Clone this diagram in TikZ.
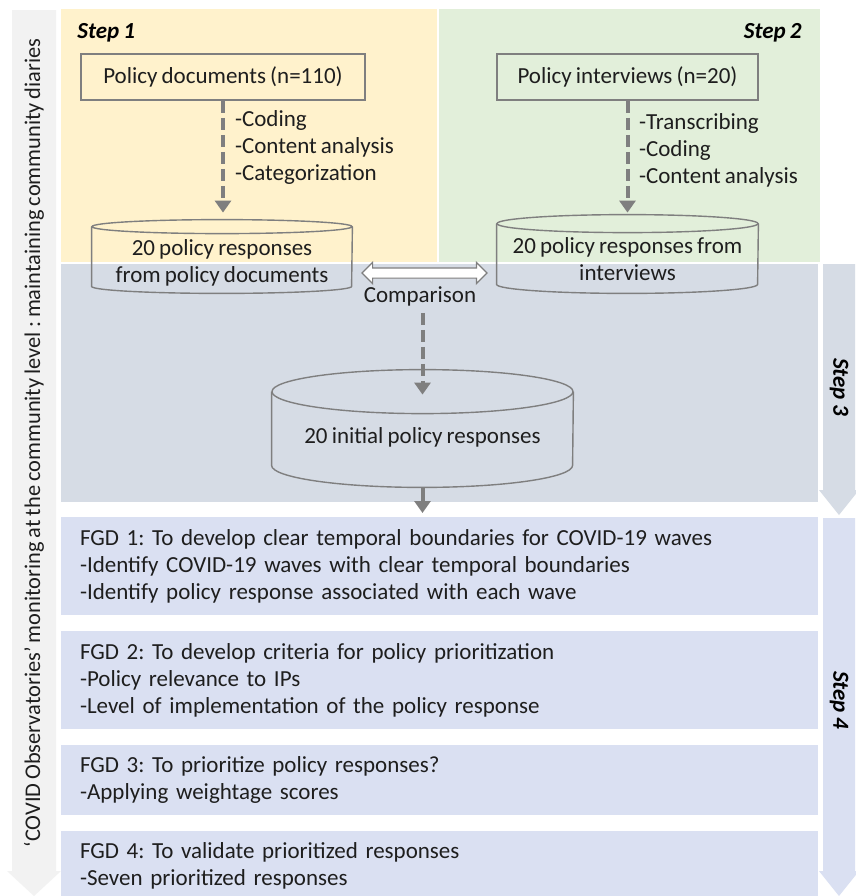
\documentclass[tikz,border=0pt]{standalone}
\usepackage{fontspec}
\setmainfont{Carlito}[WordSpace=0.8]
\usepackage{tikz}
\usetikzlibrary{arrows.meta,shapes.arrows,positioning}
\frenchspacing

\definecolor{stepone}{HTML}{FFF2CC}
\definecolor{steptwo}{HTML}{E2EFDA}
\definecolor{stepthree}{HTML}{D6DCE5}
\definecolor{fgdblue}{HTML}{DAE0F2}
\definecolor{sidegrey}{HTML}{F2F2F2}
\definecolor{linegrey}{HTML}{7F7F7F}
\definecolor{txt}{HTML}{1E1E1E}

\begin{document}
\begin{tikzpicture}
        [%%%%%%%%%%%%%%%%%%%%%%%%%%%%%%
        x=0.5pt, y=-0.5pt,
        every node/.style={font=\fontsize{11.5}{13.5}\selectfont, text=txt},
        steplabel/.style={font=\fontsize{11.5}{13.5}\selectfont\bfseries\itshape, text=black, inner sep=0pt},
        srcbox/.style={draw=linegrey, line width=0.75pt, minimum height=23pt, inner sep=0pt},
        cylbody/.style={inner sep=0pt},
        cylline/.style={draw=linegrey, line width=0.7pt},
        dasharrow/.style={draw=linegrey, line width=2pt, dash pattern=on 6pt off 2.5pt, -{Triangle[width=8pt,length=6pt]}},
        fullarrow/.style={draw=linegrey, line width=2pt, -{Triangle[width=8pt,length=6pt]}},
        fgd/.style={fill=fgdblue, anchor=north, minimum width=378.5pt, text width=359.5pt, inner xsep=9.5pt, align=left},
        ]%%%%%%%%%%%%%%%%%%%%%%%%%%%%%%
        \useasboundingbox (0,0) rectangle (856,896);
        \fill[white] (0,0) rectangle (856,896);
        % Panels
        \fill[sidegrey] (12,10) -- (56,10) -- (56,871) -- (61,871) -- (34,896) -- (7,871) -- (12,871) -- cycle;
        \fill[stepone] (61,9) rectangle (437,262);
        \fill[steptwo] (439,9) rectangle (820,262);
        \fill[stepthree] (61,264) rectangle (818,502);
        \fill[stepthree] (823,264) -- (855,264) -- (855,490) -- (859,490) -- (839,515) -- (819,490) -- (823,490) -- cycle;
        \fill[fgdblue] (823,518) -- (855,518) -- (855,871) -- (859,871) -- (839,896) -- (819,871) -- (823,871) -- cycle;

        % Step labels
        \node[rotate=90, font=\fontsize{11.2}{13.5}\selectfont] (side) at (34,443) {`COVID Observatories' monitoring at the community level : maintaining community diaries};
        \node[steplabel, anchor=west] (s1) at (77,33) {Step 1};
        \node[steplabel, anchor=east] (s2) at (802,33) {Step 2};
        \node[steplabel, rotate=-90] (s3) at (839,387) {Step 3};
        \node[steplabel, rotate=-90] (s4) at (839,700) {Step 4};

        % Sources
        \node[srcbox, fill=stepone, minimum width=142pt] (pd) at (223,77) {Policy documents (n=110)};
        \node[srcbox, fill=steptwo, minimum width=130.5pt] (pi) at (627.5,77) {Policy interviews (n=20)};
        \node[align=left, anchor=west] (pdsteps) at (228,147.5) {-Coding\\-Content analysis\\-Categorization};
        \node[align=left, anchor=west] (pisteps) at (632,150.5) {-Transcribing\\-Coding\\-Content analysis};

        % Cylinders
        \node[cylbody, minimum width=130pt, minimum height=29.5pt] (docs) at (222,256.5) {};
        \draw[cylline] (docs.north) ellipse [x radius=65pt, y radius=3.5pt];
        \draw[cylline] (docs.north west) -- (docs.south west) arc[start angle=180, end angle=360, x radius=65pt, y radius=3.5pt] -- (docs.north east);
        \node[align=center] (docstext) at (222,263) {20 policy responses\\from policy documents};

        \node[cylbody, minimum width=130.5pt, minimum height=30pt] (ints) at (627.5,254) {};
        \draw[cylline] (ints.north) ellipse [x radius=65.25pt, y radius=4.5pt];
        \draw[cylline] (ints.north west) -- (ints.south west) arc[start angle=180, end angle=360, x radius=65.25pt, y radius=4.5pt] -- (ints.north east);
        \node[align=center] (intstext) at (627.5,259.5) {20 policy responses from\\interviews};

        \node[cylbody, minimum width=150.5pt, minimum height=36.5pt] (init) at (422.5,428.5) {};
        \draw[cylline] (init.north) ellipse [x radius=75.25pt, y radius=11pt];
        \draw[cylline] (init.north west) -- (init.south west) arc[start angle=180, end angle=360, x radius=75.25pt, y radius=11pt] -- (init.north east);
        \node (inittext) at (422.5,437) {20 initial policy responses};

        % Comparison
        \node[double arrow, draw=linegrey, fill=white, line width=0.6pt, inner sep=2.25pt, minimum height=62.5pt, double arrow head extend=2.75pt] (cmp) at (424.5,273) {};
        \node (cmptext) at (420,296) {Comparison};

        % Arrows
        \draw[dasharrow, shorten >=7pt] (pd.south) -- (pd.south |- docs.north);
        \draw[dasharrow, shorten >=5.5pt] (pi.south) -- (pi.south |- ints.north);
        \draw[dasharrow, shorten <=0pt, shorten >=-1.5pt] (init.north |- cmptext.south) -- (init.north);

        % FGD boxes
        \node[fgd, minimum height=49pt] (f1) at (439.5,517) {FGD 1: To develop clear temporal boundaries for COVID-19 waves\\-Identify COVID-19 waves with clear temporal boundaries\\-Identify policy response associated with each wave};
        \node[fgd, minimum height=49pt, below=7.5pt of f1] (f2) {FGD 2: To develop criteria for policy prioritization\\-Policy relevance to IPs\\-Level of implementation of the policy response};
        \node[fgd, minimum height=35pt, below=7.5pt of f2] (f3) {FGD 3: To prioritize policy responses?\\-Applying weightage scores};
        \node[fgd, minimum height=35pt, below=7.5pt of f3] (f4) {FGD 4: To validate prioritized responses\\-Seven prioritized responses};

        \draw[fullarrow, shorten <=11pt, shorten >=2pt] (init.south) -- (init.south |- f1.north);
      \end{tikzpicture}
\end{document}
